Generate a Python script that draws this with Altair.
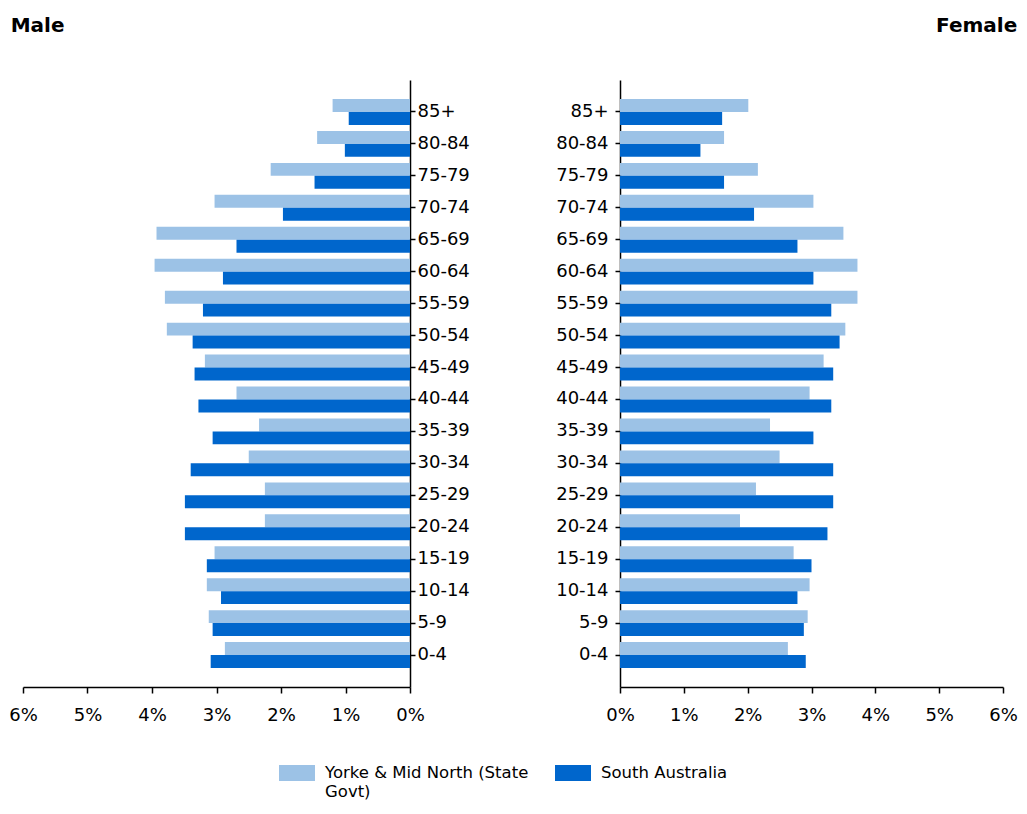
import altair as alt
import pandas as pd

ages = ["85+", "80-84", "75-79", "70-74", "65-69", "60-64", "55-59", "50-54",
        "45-49", "40-44", "35-39", "30-34", "25-29", "20-24", "15-19", "10-14",
        "5-9", "0-4"]

series_names = ["Yorke & Mid North (State Govt)", "South Australia"]

male_ymn = [1.20, 1.44, 2.16, 3.03, 3.93, 3.96, 3.80, 3.77, 3.18, 2.69, 2.34,
            2.50, 2.25, 2.25, 3.03, 3.15, 3.12, 2.87]
male_sa = [0.95, 1.01, 1.48, 1.97, 2.69, 2.90, 3.21, 3.37, 3.34, 3.28, 3.06,
           3.40, 3.49, 3.49, 3.15, 2.93, 3.06, 3.09]
female_ymn = [2.01, 1.63, 2.16, 3.03, 3.50, 3.72, 3.72, 3.53, 3.19, 2.97, 2.35,
              2.50, 2.13, 1.88, 2.72, 2.97, 2.94, 2.63]
female_sa = [1.60, 1.26, 1.63, 2.10, 2.78, 3.03, 3.31, 3.44, 3.34, 3.31, 3.03,
             3.34, 3.34, 3.25, 3.00, 2.78, 2.88, 2.91]

x_ticks = [0, 1, 2, 3, 4, 5, 6]
colors = ["#9CC2E6", "#0066CC"]


def frame(ymn, sa):
    rows = []
    for a, v1, v2 in zip(ages, ymn, sa):
        rows.append({"age": a, "series": series_names[0], "value": v1})
        rows.append({"age": a, "series": series_names[1], "value": v2})
    return pd.DataFrame(rows)


df_m = frame(male_ymn, male_sa)
df_f = frame(female_ymn, female_sa)

FONT = "DejaVu Sans"

legend = alt.Legend(
    title=None,
    orient="none",
    direction="horizontal",
    legendX=256,
    legendY=675,
    padding=0,
    columnPadding=26,
    symbolType="M-1,-0.444L1,-0.444L1,0.444L-1,0.444Z",
    symbolSize=1296,
    symbolStrokeWidth=0,
    symbolOpacity=1,
    labelFont=FONT,
    labelFontSize=16.5,
    labelColor="#000000",
    labelOffset=10,
    labelLimit=400,
    labelExpr="indexof(datum.label, 'Yorke') == 0 ? ['Yorke & Mid North (State', 'Govt)'] : [datum.label, '']",
)

color = alt.Color(
    "series:N",
    sort=series_names,
    scale=alt.Scale(domain=series_names, range=colors),
    legend=legend,
)


def xaxis():
    return alt.Axis(
        values=x_ticks,
        labelExpr="datum.value + '%'",
        title=None,
        grid=False,
        tickSize=6,
        labelPadding=13,
        labelFontSize=18,
        labelFont=FONT,
        labelColor="#000000",
        domainColor="#000000",
        tickColor="#000000",
        domainWidth=1.5,
        tickWidth=1.5,
        labelFlush=False,
        labelOverlap=False,
    )


def yaxis(orient, pad):
    return alt.Axis(
        orient=orient,
        title=None,
        grid=False,
        tickSize=5,
        labelPadding=pad,
        labelFontSize=18,
        labelFont=FONT,
        labelColor="#000000",
        domainColor="#000000",
        tickColor="#000000",
        domainWidth=1.5,
        tickWidth=1.5,
    )


yscale = alt.Scale(paddingInner=0.19, paddingOuter=0.595)

male = alt.Chart(df_m).mark_bar().encode(
    x=alt.X("value:Q", scale=alt.Scale(domain=[0, 6], reverse=True, nice=False),
            axis=xaxis()),
    y=alt.Y("age:N", sort=ages, scale=yscale, axis=yaxis("right", 2)),
    yOffset=alt.YOffset("series:N", sort=series_names,
                        scale=alt.Scale(paddingInner=0)),
    color=color,
).properties(
    width=387,
    height=607,
    title=alt.TitleParams("Male", anchor="start", dx=2, offset=28,
                          baseline="alphabetic", font=FONT, fontSize=20,
                          fontWeight="bold", color="#000000"),
)

female = alt.Chart(df_f).mark_bar().encode(
    x=alt.X("value:Q", scale=alt.Scale(domain=[0, 6], nice=False),
            axis=xaxis()),
    y=alt.Y("age:N", sort=ages, scale=yscale, axis=yaxis("left", 7)),
    yOffset=alt.YOffset("series:N", sort=series_names,
                        scale=alt.Scale(paddingInner=0)),
    color=color,
).properties(
    width=383,
    height=607,
    title=alt.TitleParams("Female", anchor="end", dx=0, offset=28,
                          baseline="alphabetic", font=FONT, fontSize=20,
                          fontWeight="bold", color="#000000"),
)

chart = alt.hconcat(male, female, spacing=210, bounds="flush").resolve_scale(
    color="shared"
).properties(
    padding={"left": 0, "top": 8, "right": 0, "bottom": 0},
    background="white",
).configure_view(strokeOpacity=0, strokeWidth=0)

chart.save("out.html", embed_options={"renderer": "svg", "actions": False})
